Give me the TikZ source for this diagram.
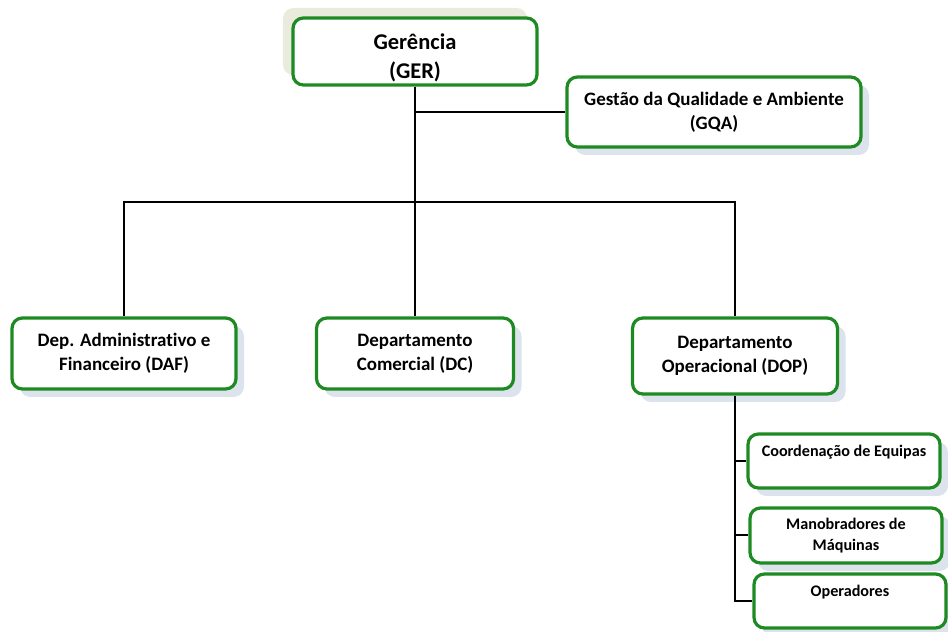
\documentclass[tikz,border=0pt]{standalone}
\usepackage{fontspec}
\setmainfont{Carlito}[Ligatures=NoCommon]
\usetikzlibrary{positioning, shadows}
\definecolor{boxgreen}{HTML}{1E8A22}
\definecolor{shadeblue}{HTML}{DCE3ED}
\definecolor{shadegreen}{HTML}{E9ECDC}
\tikzset{
	basebox/.style={draw=boxgreen, line width=0.8mm, rounded corners=2.6mm, fill=white, align=center,
		font=\fontsize{13.5}{17}\selectfont\bfseries, inner sep=0pt},
	orgbox/.style={basebox, drop shadow={shadow xshift=2mm, shadow yshift=-2mm, fill=shadeblue, opacity=1}},
	topbox/.style={basebox, font=\fontsize{16}{20.5}\selectfont\bfseries,
		drop shadow={shadow xshift=-2.5mm, shadow yshift=2.5mm, fill=shadegreen, opacity=1}},
	subbox/.style={orgbox, font=\fontsize{11.5}{15}\selectfont\bfseries},
	link/.style={line width=0.5mm, black}
}
\begin{document}
\begin{tikzpicture}[x=0.25mm, y=-0.25mm]
	\useasboundingbox (0,0) rectangle (948,632);

	\node[topbox, minimum width=61mm, minimum height=16.75mm] (ger) at (415,51.5) {\mbox{}\\Gerência\\(GER)};
	\node[orgbox, minimum width=73.5mm, minimum height=17.5mm] (gqa) at (714,112) {Gestão da Qualidade e Ambiente\\(GQA)};

	\node[orgbox, minimum width=56mm, minimum height=17.75mm] (daf) at (124,353.5) {Dep. Administrativo e\\Financeiro (DAF)};
	\node[orgbox, minimum width=49.25mm, minimum height=17.75mm] (dc) at (415,353.5) {Departamento\\Comercial (DC)};
	\node[orgbox, minimum width=51.25mm, minimum height=19mm] (dop) at (735,356) {Departamento\\Operacional (DOP)};

	\node[subbox, minimum width=48mm, minimum height=13.5mm] (coord) at (844,461) {Coordenação de Equipas\\\mbox{}};
	\node[subbox, minimum width=48mm, minimum height=13.75mm] (manob) at (846,535.5) {Manobradores de\\Máquinas};
	\node[subbox, minimum width=48mm, minimum height=13.5mm] (oper) at (850,601) {Operadores\\\mbox{}};

	\coordinate (bus) at (415,202);

	\draw[link] (ger.south) -- (dc.north);
	\draw[link] (ger.south |- gqa.west) -- (gqa.west);
	\draw[link] (daf.north) |- (bus) -| (dop.north);

	\draw[link] (dop.south) |- (oper.west);
	\draw[link] (dop.south |- coord.west) -- (coord.west);
	\draw[link] (dop.south |- manob.west) -- (manob.west);
\end{tikzpicture}
\end{document}
